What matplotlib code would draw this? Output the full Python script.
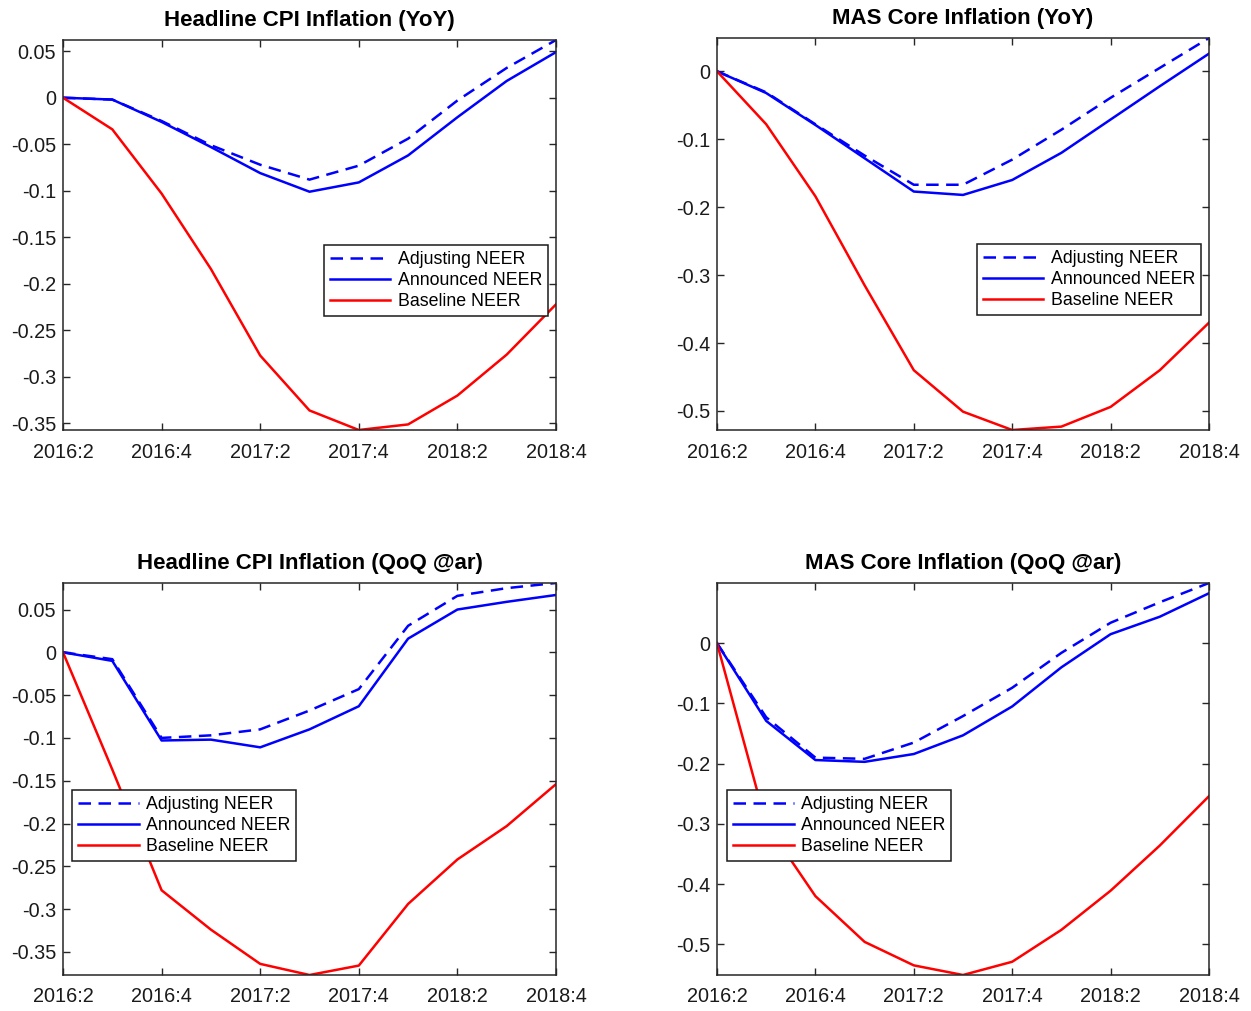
import numpy as np
import matplotlib
matplotlib.use('Agg')
import matplotlib.pyplot as plt
from matplotlib.ticker import FuncFormatter

plt.rcParams['font.family'] = ['Liberation Sans', 'DejaVu Sans']
plt.rcParams['axes.unicode_minus'] = False

# Quarters 2016:2 ... 2018:4
quarters = ['2016:2', '2016:3', '2016:4', '2017:1', '2017:2', '2017:3',
            '2017:4', '2018:1', '2018:2', '2018:3', '2018:4']
tick_labels = ['2016:2', '2016:4', '2017:2', '2017:4', '2018:2', '2018:4']

titles = ['Headline CPI Inflation (YoY)', 'MAS Core Inflation (YoY)',
          'Headline CPI Inflation (QoQ @ar)', 'MAS Core Inflation (QoQ @ar)']

# Headline CPI YoY
cpi_yoy_adjusting = [0, -0.002, -0.025, -0.051, -0.072, -0.088, -0.073, -0.044, -0.003, 0.032, 0.062]
cpi_yoy_announced = [0, -0.002, -0.026, -0.053, -0.081, -0.101, -0.091, -0.062, -0.021, 0.018, 0.049]
cpi_yoy_baseline = [0, -0.034, -0.103, -0.184, -0.277, -0.336, -0.357, -0.351, -0.320, -0.276, -0.222]

# MAS Core YoY
core_yoy_adjusting = [0, -0.031, -0.078, -0.124, -0.167, -0.167, -0.130, -0.086, -0.039, 0.005, 0.049]
core_yoy_announced = [0, -0.032, -0.079, -0.128, -0.177, -0.182, -0.160, -0.120, -0.071, -0.022, 0.026]
core_yoy_baseline = [0, -0.078, -0.184, -0.315, -0.440, -0.501, -0.528, -0.523, -0.494, -0.440, -0.370]

# Headline CPI QoQ annualised
cpi_qoq_adjusting = [0, -0.008, -0.100, -0.097, -0.090, -0.068, -0.043, 0.031, 0.066, 0.075, 0.081]
cpi_qoq_announced = [0, -0.010, -0.103, -0.102, -0.111, -0.090, -0.063, 0.016, 0.050, 0.059, 0.067]
cpi_qoq_baseline = [0, -0.137, -0.278, -0.324, -0.364, -0.377, -0.366, -0.294, -0.242, -0.203, -0.154]

# MAS Core QoQ annualised
core_qoq_adjusting = [0, -0.123, -0.190, -0.192, -0.165, -0.121, -0.074, -0.016, 0.034, 0.068, 0.100]
core_qoq_announced = [0, -0.129, -0.194, -0.197, -0.184, -0.153, -0.105, -0.040, 0.015, 0.044, 0.083]
core_qoq_baseline = [0, -0.300, -0.420, -0.496, -0.535, -0.551, -0.529, -0.476, -0.411, -0.336, -0.254]

panels = [
    (cpi_yoy_adjusting, cpi_yoy_announced, cpi_yoy_baseline),
    (core_yoy_adjusting, core_yoy_announced, core_yoy_baseline),
    (cpi_qoq_adjusting, cpi_qoq_announced, cpi_qoq_baseline),
    (core_qoq_adjusting, core_qoq_announced, core_qoq_baseline),
]
yticks_list = [np.arange(-0.35, 0.051, 0.05), np.arange(-0.5, 0.01, 0.1),
               np.arange(-0.35, 0.051, 0.05), np.arange(-0.5, 0.01, 0.1)]

W, H = 1251, 1011
fig = plt.figure(figsize=(W / 100, H / 100), dpi=100)

# axes boxes in pixels: left, top, right, bottom
boxes = [(63, 40, 556, 430), (717, 38, 1209, 430),
         (63, 583, 556, 975), (717, 583, 1209, 975)]
legend_pos = [('upper right', (0.984, 0.474)), ('upper right', (0.984, 0.474)),
              ('upper left', (0.018, 0.472)), ('upper left', (0.020, 0.472))]

x = np.arange(len(quarters))


def tick_fmt(v, p):
    if abs(v) < 1e-9:
        return '0'
    return '%g' % round(v, 4)


for i, (adj, ann, base) in enumerate(panels):
    l, t, r, b = boxes[i]
    ax = fig.add_axes([l / W, 1 - b / H, (r - l) / W, (b - t) / H])
    ax.plot(x, adj, color='#0000ff', lw=1.8, ls=(0, (5, 3)), label='Adjusting NEER')
    ax.plot(x, ann, color='#0000ff', lw=1.8, label='Announced NEER')
    ax.plot(x, base, color='#ff0000', lw=1.8, label='Baseline NEER')

    ymin = min(min(adj), min(ann), min(base))
    ymax = max(max(adj), max(ann), max(base))
    ax.set_xlim(0, len(quarters) - 1)
    ax.set_ylim(ymin, ymax)
    ax.set_xticks(x[::2])
    ax.set_xticklabels(tick_labels)
    ax.set_yticks(yticks_list[i])
    ax.yaxis.set_major_formatter(FuncFormatter(tick_fmt))
    ax.tick_params(direction='in', top=True, right=True, length=5, width=1,
                   color='#262626', labelsize=14.3, labelcolor='#1a1a1a')
    ax.tick_params(axis='x', pad=9)
    ax.tick_params(axis='y', pad=5)
    for s in ax.spines.values():
        s.set_linewidth(1.1)
        s.set_color('#262626')
    ax.set_title(titles[i], fontsize=16, fontweight='bold', pad=10)

    loc, anchor = legend_pos[i]
    leg = ax.legend(loc=loc, bbox_to_anchor=anchor, fontsize=12.8, fancybox=False,
                    framealpha=1, edgecolor='#1a1a1a', handlelength=3.4,
                    handletextpad=0.4, borderpad=0.35, labelspacing=0.22,
                    borderaxespad=0)
    leg.get_frame().set_linewidth(1.1)

fig.savefig('out.png', dpi=100)
